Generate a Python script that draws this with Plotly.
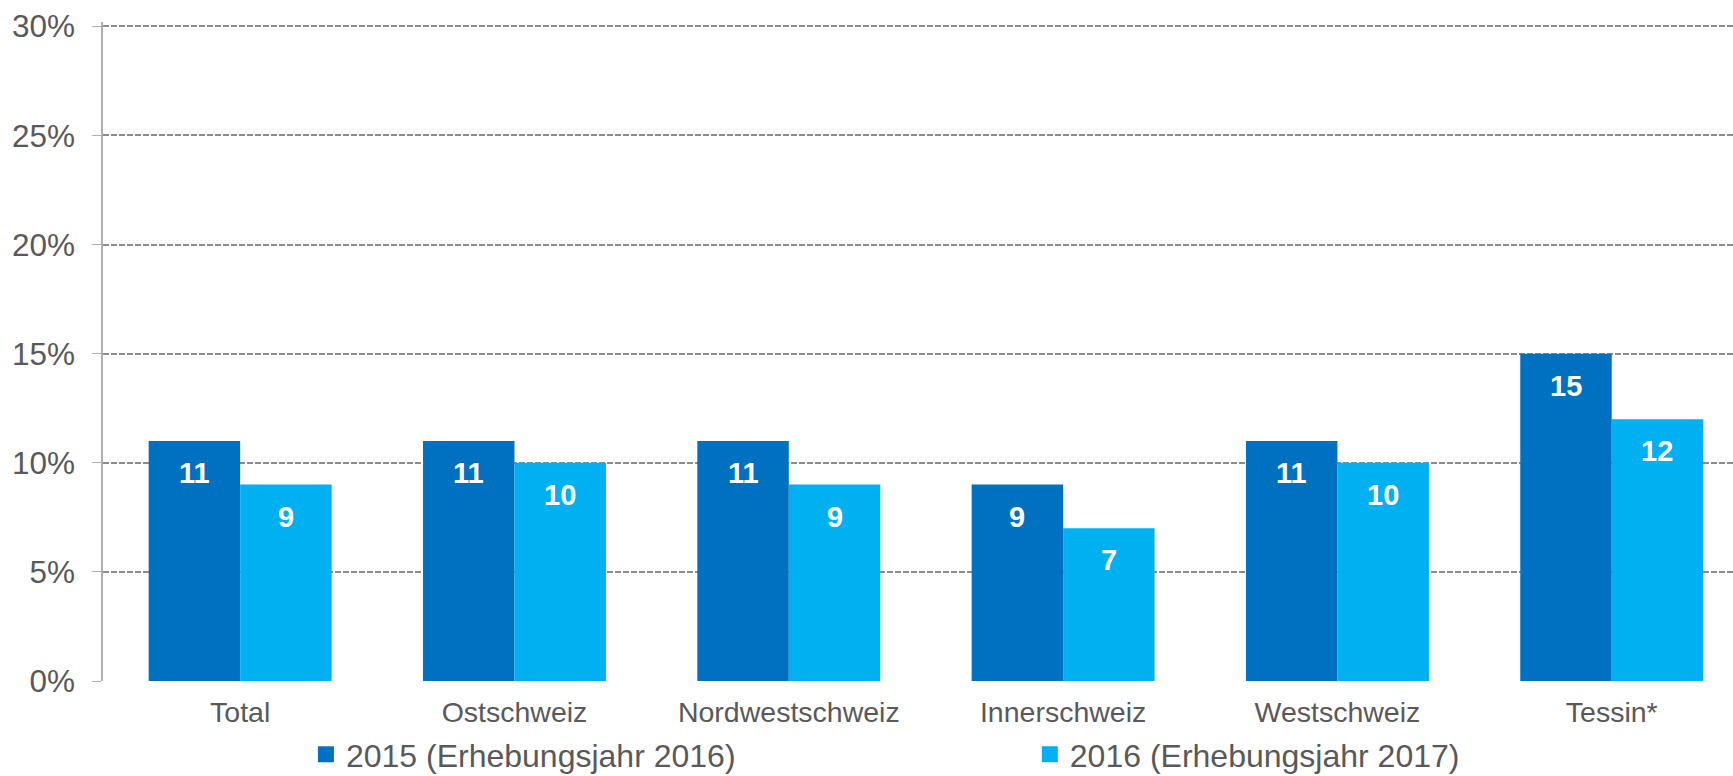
import plotly.graph_objects as go

# Daten
regionen = ["Total", "Ostschweiz", "Nordwestschweiz", "Innerschweiz", "Westschweiz", "Tessin*"]
werte_2015 = [11, 11, 11, 9, 11, 15]
werte_2016 = [9, 10, 9, 7, 10, 12]
serie_2015 = "2015 (Erhebungsjahr 2016)"
serie_2016 = "2016 (Erhebungsjahr 2017)"
y_ticks = [0, 5, 10, 15, 20, 25, 30]

DUNKEL = "#0070C0"
HELL = "#00B0F0"
TEXT = "#595959"
FONT = "Arial, Liberation Sans, sans-serif"
BARGAP = 0.333

fig = go.Figure()
for name, vals, col in [(serie_2015, werte_2015, DUNKEL), (serie_2016, werte_2016, HELL)]:
    fig.add_trace(go.Bar(x=regionen, y=vals, name=name, marker=dict(color=col, line_width=0),
                         showlegend=False))

# Legendeneinträge (grössere Quadrate)
fig.add_trace(go.Scatter(x=[None], y=[None], mode="markers", name=serie_2015,
                         marker=dict(symbol="square", size=17, color=DUNKEL), legend="legend"))
fig.add_trace(go.Scatter(x=[None], y=[None], mode="markers", name=serie_2016,
                         marker=dict(symbol="square", size=17, color=HELL), legend="legend2"))

# Werte-Beschriftungen in den Balken
half = (1 - BARGAP) / 4
for i in range(len(regionen)):
    for off, v in [(-half, werte_2015[i]), (half, werte_2016[i])]:
        fig.add_annotation(x=i + off, y=v, text=f"<b>{v}</b>", showarrow=False,
                           yanchor="middle", yshift=-32,
                           font=dict(family=FONT, size=29, color="white"))

leg = dict(orientation="h", yanchor="middle", y=-0.1115, xanchor="left",
           font=dict(family=FONT, size=32, color=TEXT), bgcolor="rgba(0,0,0,0)",
           itemsizing="trace")
fig.update_layout(
    width=1733, height=776,
    margin=dict(l=103, r=0, t=22, b=95, autoexpand=False),
    plot_bgcolor="white", paper_bgcolor="white",
    barmode="group", bargap=BARGAP, bargroupgap=0,
    font=dict(family=FONT, color=TEXT),
    legend=dict(leg, x=0.1245),
    legend2=dict(leg, x=0.5686),
)
fig.update_xaxes(type="category", range=[-0.5, 5.442], showline=False, showgrid=False,
                 ticks="", ticklabelstandoff=11,
                 tickfont=dict(family=FONT, size=28.5, color=TEXT))
fig.update_yaxes(range=[0, 30.2], tickvals=y_ticks, ticktext=[f"{v}%" for v in y_ticks],
                 showline=True, linecolor="#B0B0B0", linewidth=1.5, ticks="outside", ticklen=9,
                 tickcolor="#B0B0B0", ticklabelstandoff=11,
                 showgrid=True, gridcolor="#8C8C8C", griddash="6px,2px", gridwidth=1.5,
                 zeroline=False, tickfont=dict(family=FONT, size=31.5, color=TEXT))

fig.write_html("out.html", config={"displayModeBar": False},
               post_script="document.body.style.margin='0';")
